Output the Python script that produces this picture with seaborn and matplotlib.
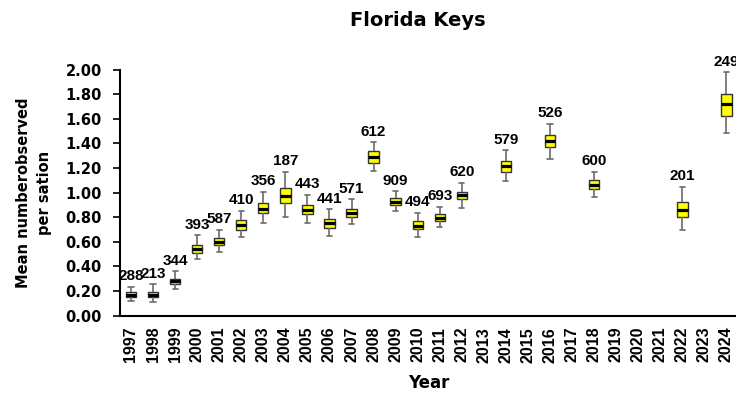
import numpy as np
import pandas as pd
import matplotlib
matplotlib.use("Agg")
import matplotlib.pyplot as plt
import seaborn as sns

# years shown on the axis (some have no survey)
all_years = [str(y) for y in range(1997, 2025)]

obs_years = ["1997", "1998", "1999", "2000", "2001", "2002", "2003", "2004", "2005", "2006", "2007",
             "2008", "2009", "2010", "2011", "2012", "2014", "2016", "2018", "2022", "2024"]
n_labels = [288, 213, 344, 393, 587, 410, 356, 187, 443, 441, 571,
            612, 909, 494, 693, 620, 579, 526, 600, 201, 249]

# box statistics
whisk_lo = [0.12, 0.11, 0.215, 0.457, 0.519, 0.641, 0.755, 0.805, 0.75, 0.646, 0.744,
            1.177, 0.847, 0.641, 0.717, 0.876, 1.096, 1.275, 0.966, 0.698, 1.486]
q1 = [0.153, 0.155, 0.256, 0.51, 0.573, 0.70, 0.831, 0.912, 0.825, 0.711, 0.803,
      1.245, 0.896, 0.703, 0.768, 0.945, 1.172, 1.368, 1.026, 0.801, 1.624]
med = [0.172, 0.172, 0.28, 0.543, 0.603, 0.736, 0.871, 0.974, 0.863, 0.75, 0.836,
       1.291, 0.925, 0.733, 0.798, 0.977, 1.215, 1.421, 1.066, 0.86, 1.717]
q3 = [0.19, 0.19, 0.30, 0.573, 0.628, 0.776, 0.912, 1.04, 0.898, 0.785, 0.868,
      1.337, 0.955, 0.766, 0.828, 1.007, 1.259, 1.47, 1.102, 0.923, 1.803]
whisk_hi = [0.234, 0.256, 0.362, 0.654, 0.70, 0.852, 1.007, 1.17, 0.985, 0.866, 0.945,
            1.408, 1.012, 0.836, 0.885, 1.08, 1.345, 1.562, 1.172, 1.047, 1.98]

# five points per year -> boxplot with whis=(0,100) reproduces the stats exactly
rows = []
for i, yr in enumerate(obs_years):
    for v in (whisk_lo[i], q1[i], med[i], q3[i], whisk_hi[i]):
        rows.append({"Year": yr, "value": v})
df = pd.DataFrame(rows)

sns.set_style("white")
plt.rcParams["font.family"] = ["DejaVu Sans"]
plt.rcParams["text.color"] = "black"
plt.rcParams["axes.labelcolor"] = "black"
plt.rcParams["xtick.color"] = "black"
plt.rcParams["ytick.color"] = "black"

fig = plt.figure(figsize=(7.36, 4.04), dpi=100)
ax = fig.add_axes([0.163, 0.2186, 0.839, 0.609])

sns.boxplot(data=df, x="Year", y="value", order=all_years, whis=(0, 100), width=0.47,
            color="#FFFF00", linecolor="#333333", linewidth=1, saturation=1,
            medianprops={"color": "black", "linewidth": 2.3},
            whiskerprops={"color": "#6b6b6b", "linewidth": 1.2},
            capprops={"color": "#6b6b6b", "linewidth": 1.2},
            ax=ax)

pos = {yr: i for i, yr in enumerate(all_years)}
for yr, n, hi in zip(obs_years, n_labels, whisk_hi):
    ax.annotate(str(n), (pos[yr], hi), xytext=(0, 2.5), textcoords="offset points",
                ha="center", va="bottom", fontsize=11, fontweight="bold",
                family="Liberation Sans", color="black")

ax.set_ylim(0, 2.0)
ax.set_xlim(-0.5, len(all_years) - 0.5)
ax.set_yticks(np.arange(0, 2.01, 0.2))
ax.set_yticklabels([f"{t:.2f}" for t in np.arange(0, 2.01, 0.2)], fontweight="bold", fontsize=10.5)
ax.set_xticks(range(len(all_years)))
ax.set_xticklabels(all_years, rotation=90, fontweight="bold", fontsize=11.5, family="Liberation Sans")
ax.set_xticks(np.arange(-0.5, len(all_years), 1), minor=True)
ax.tick_params(axis="x", which="major", length=0, pad=8)
ax.tick_params(axis="x", which="minor", length=5, width=1.2, color="black", direction="out")
ax.tick_params(axis="y", length=5, width=1.2, color="black", direction="out", pad=8, left=True)

for s in ("top", "right"):
    ax.spines[s].set_visible(False)
for s in ("left", "bottom"):
    ax.spines[s].set_color("black")
    ax.spines[s].set_linewidth(1.5)

ax.set_xlabel("Year", fontsize=12, fontweight="bold", labelpad=8)
ax.set_ylabel("Mean numberobserved\nper sation", fontsize=10.5, fontweight="bold",
              labelpad=10, linespacing=1.5)
fig.text(0.568, 0.95, "Florida Keys", ha="center", va="center", fontsize=14, fontweight="bold")

fig.savefig("out.png", dpi=100)
